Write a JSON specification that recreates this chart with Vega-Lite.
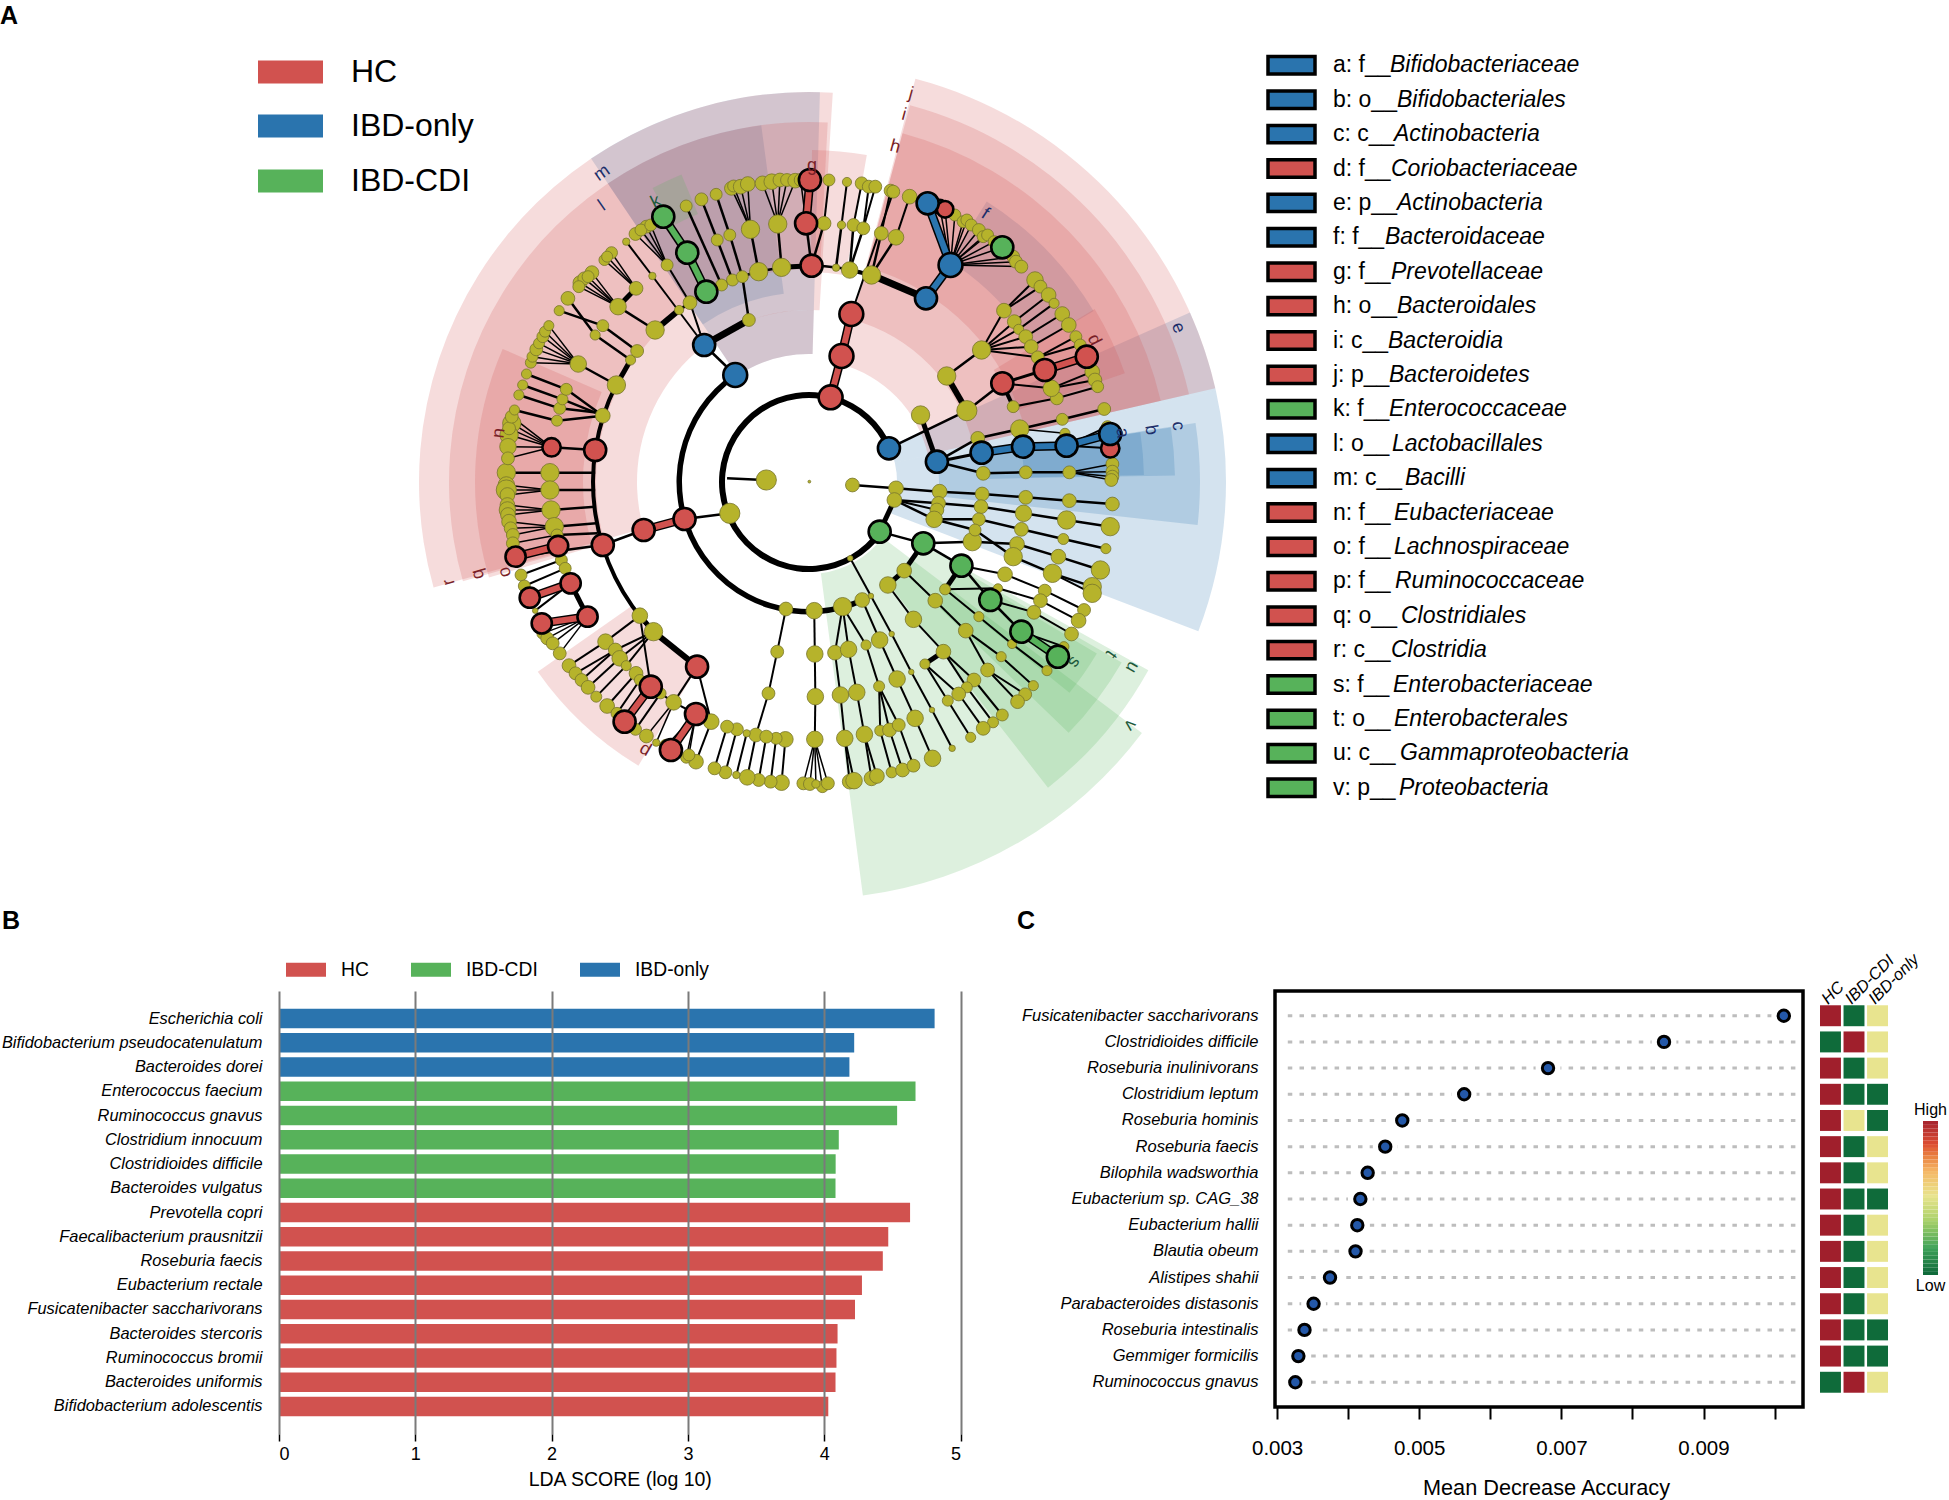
{"$schema":"https://vega.github.io/schema/vega-lite/v6.json","padding":0,"background":"white","bounds":"flush","spacing":0,"config":{"font":"Liberation Sans","view":{"stroke":null}},
"resolve":{"scale":{"color":"independent","x":"independent","y":"independent","size":"independent"}},
"datasets":{
"sectors":[
{"t0":0.565,"t1":1.03,"r0":262,"r1":332,"c":"b"},{"t0":1.152,"t1":1.349,"r0":88,"r1":417,"c":"b"},
{"t0":1.349,"t1":1.937,"r0":88,"r1":417,"c":"b"},{"t0":1.419,"t1":1.681,"r0":130,"r1":391,"c":"b"},{"t0":1.421,"t1":1.553,"r0":175,"r1":366,"c":"b"},{"t0":1.422,"t1":1.55,"r0":215,"r1":335,"c":"b"},
{"t0":-0.593,"t1":0.028,"r0":128,"r1":390,"c":"b"},{"t0":-0.593,"t1":-0.133,"r0":190,"r1":360,"c":"b"},
{"t0":0.258,"t1":1.344,"r0":122,"r1":417,"c":"r"},{"t0":0.262,"t1":1.344,"r0":168,"r1":390,"c":"r"},{"t0":0.262,"t1":1.344,"r0":222,"r1":361,"c":"r"},{"t0":1.026,"t1":1.239,"r0":216,"r1":334,"c":"r"},
{"t0":-1.845,"t1":0.061,"r0":172,"r1":390,"c":"r"},{"t0":-0.593,"t1":0.028,"r0":128,"r1":172,"c":"r"},{"t0":-1.85,"t1":0.052,"r0":213,"r1":360,"c":"r"},{"t0":-1.861,"t1":-1.161,"r0":226,"r1":334,"c":"r"},{"t0":0.009,"t1":0.175,"r0":210,"r1":332,"c":"r"},{"t0":3.683,"t1":4.102,"r0":216,"r1":331,"c":"r"},
{"t0":2.217,"t1":3.012,"r0":92,"r1":417,"c":"g"},{"t0":2.077,"t1":2.478,"r0":130,"r1":388,"c":"g"},{"t0":2.094,"t1":2.339,"r0":175,"r1":361,"c":"g"},{"t0":2.108,"t1":2.251,"r0":218,"r1":335,"c":"g"},{"t0":-0.489,"t1":-0.393,"r0":290,"r1":333,"c":"g"}],
"rings":[{"t0":2.182,"t1":7.453,"r0":84,"r1":90},{"t0":2.705,"t1":5.678,"r0":127,"r1":132.5},{"t0":3.946,"t1":5.178,"r0":214,"r1":218},{"t0":5.786,"t1":6.575,"r0":215,"r1":217.5}],
"tree":[
{"x":751,"y":1265,"d":3,"c":"y"},{"x":672,"y":1260,"a":600,"b":1255,"w":2.5,"d":22,"c":"y"},{"x":605,"y":1360,"d":22,"c":"y"},{"x":790,"y":1012,"d":26,"c":"r"},{"x":897,"y":1165,"d":24,"c":"b"},{"x":880,"y":1415,"d":24,"c":"g"},{"x":826,"y":1495,"d":6,"c":"y"},
{"x":830,"y":1275,"d":15,"c":"y"},{"x":910,"y":1285,"a":830,"b":1275,"w":2.5,"d":16,"c":"y"},{"x":990,"y":1295,"a":910,"b":1285,"w":2.5,"d":16,"c":"y"},{"x":1068,"y":1302,"a":990,"b":1295,"w":2.5,"d":15,"c":"y"},{"x":1148,"y":1312,"a":1068,"b":1302,"w":2.5,"d":15,"c":"y"},{"x":1228,"y":1322,"a":1148,"b":1312,"w":2.5,"d":15,"c":"y"},{"x":1307,"y":1332,"a":1228,"b":1322,"w":2.5,"d":15,"c":"y"},
{"x":907,"y":1320,"a":880,"b":1415,"w":5,"d":16,"c":"y"},{"x":988,"y":1330,"a":907,"b":1320,"w":2.5,"d":15,"c":"y"},{"x":1066,"y":1340,"a":988,"b":1330,"w":2.5,"d":15,"c":"y"},{"x":1144,"y":1360,"a":1066,"b":1340,"w":2.5,"d":18,"c":"y"},{"x":1223,"y":1380,"a":1144,"b":1360,"w":2.5,"d":20,"c":"y"},{"x":1303,"y":1400,"a":1223,"b":1380,"w":2.5,"d":20,"c":"y"},
{"x":985,"y":1350,"a":907,"b":1320,"w":2,"d":15,"c":"y"},{"x":980,"y":1378,"a":907,"b":1320,"w":2.5,"d":18,"c":"y"},{"x":1062,"y":1378,"a":980,"b":1378,"w":2.5,"d":14,"c":"y"},{"x":1140,"y":1408,"a":1062,"b":1378,"w":2.5,"d":15,"c":"y"},{"x":1217,"y":1437,"a":1140,"b":1408,"w":2.5,"d":12,"c":"y"},{"x":1295,"y":1466,"a":1217,"b":1437,"w":2.5,"d":11,"c":"y"},
{"x":1050,"y":1445,"a":960,"b":1450,"w":2.5,"d":20,"c":"y"},{"x":1132,"y":1452,"a":1050,"b":1445,"w":2.5,"d":16,"c":"y"},{"x":1208,"y":1490,"a":1132,"b":1452,"w":2.5,"d":16,"c":"y"},{"x":1285,"y":1530,"a":1208,"b":1490,"w":2.5,"d":20,"c":"y"},
{"x":1055,"y":1410,"a":980,"b":1378,"w":2.5,"d":13,"c":"y"},{"x":1125,"y":1490,"a":1055,"b":1410,"w":2.5,"d":20,"c":"y"},{"x":1197,"y":1540,"a":1125,"b":1490,"w":2.5,"d":20,"c":"y"},{"x":1270,"y":1580,"a":1197,"b":1540,"w":2.5,"d":20,"c":"y"},{"x":1270,"y":1600,"a":1197,"b":1540,"w":2,"d":20,"c":"y"},
{"x":960,"y":1450,"a":880,"b":1415,"w":2.5,"d":24,"c":"g"},{"x":1030,"y":1517,"a":960,"b":1450,"w":2.5,"d":24,"c":"g"},{"x":1083,"y":1620,"a":1030,"b":1517,"w":2.5,"d":24,"c":"g"},{"x":1140,"y":1715,"a":1083,"b":1620,"w":2.5,"d":24,"c":"g"},{"x":1207,"y":1790,"a":1140,"b":1715,"w":9,"i":6,"d":24,"c":"g"},
{"x":925,"y":1532,"a":960,"b":1450,"w":5,"d":16,"c":"y"},{"x":895,"y":1575,"a":925,"b":1532,"w":5,"d":18,"c":"y"},{"x":1000,"y":1588,"a":1030,"b":1517,"w":5,"d":12,"c":"y"},{"x":982,"y":1622,"a":925,"b":1532,"w":2,"d":16,"c":"y"},{"x":942,"y":1678,"a":895,"b":1575,"w":2,"d":18,"c":"y"},{"x":1038,"y":1712,"a":982,"b":1622,"w":2,"d":16,"c":"y"},{"x":997,"y":1775,"a":942,"b":1678,"w":2,"d":16,"c":"y"},{"x":963,"y":1812,"a":997,"b":1775,"w":5,"d":11,"c":"y"},
{"x":1110,"y":1543,"a":1030,"b":1517,"w":2,"d":16,"c":"y"},{"x":1183,"y":1592,"a":1110,"b":1543,"w":2,"d":14,"c":"y"},{"x":1255,"y":1650,"a":1183,"b":1592,"w":2,"d":14,"c":"y"},{"x":1097,"y":1585,"a":1000,"b":1588,"w":2,"d":10,"c":"y"},{"x":1175,"y":1622,"a":1097,"b":1585,"w":2,"d":15,"c":"y"},{"x":1245,"y":1682,"a":1175,"b":1622,"w":2,"d":16,"c":"y"},{"x":1163,"y":1657,"a":1083,"b":1620,"w":2,"d":15,"c":"y"},{"x":1232,"y":1722,"a":1163,"b":1657,"w":2,"d":15,"c":"y"},{"x":1218,"y":1760,"a":1140,"b":1715,"w":2,"d":11,"c":"y"},
{"x":1062,"y":1670,"a":1000,"b":1588,"w":2,"d":11,"c":"y"},{"x":1123,"y":1752,"a":1062,"b":1670,"w":2,"d":10,"c":"y"},{"x":1187,"y":1832,"a":1123,"b":1752,"w":2,"d":11,"c":"y"},{"x":1103,"y":1790,"a":1038,"b":1712,"w":2,"d":11,"c":"y"},{"x":1162,"y":1877,"a":1103,"b":1790,"w":2,"d":11,"c":"y"},{"x":1078,"y":1830,"a":1038,"b":1712,"w":2,"d":15,"c":"y"},{"x":1147,"y":1903,"a":1078,"b":1830,"w":2,"d":14,"c":"y"},{"x":1133,"y":1925,"a":1078,"b":1830,"w":2,"d":15,"c":"y"},
{"x":1053,"y":1860,"a":997,"b":1775,"w":2,"d":15,"c":"y"},{"x":1105,"y":1965,"a":1053,"b":1860,"w":2,"d":13,"c":"y"},{"x":1040,"y":1882,"a":997,"b":1775,"w":2,"d":12,"c":"y"},{"x":1088,"y":1987,"a":1040,"b":1882,"w":2,"d":12,"c":"y"},{"x":1025,"y":1902,"a":963,"b":1812,"w":2,"d":15,"c":"y"},{"x":1070,"y":2005,"a":1025,"b":1902,"w":2,"d":15,"c":"y"},{"x":1005,"y":1922,"a":963,"b":1812,"w":2,"d":12,"c":"y"},{"x":1047,"y":2032,"a":1005,"b":1922,"w":2,"d":11,"c":"y"},
{"x":708,"y":1647,"d":15,"c":"y"},{"x":760,"y":1652,"d":18,"c":"y"},{"x":812,"y":1640,"d":20,"c":"y"},{"x":848,"y":1620,"d":16,"c":"y"},{"x":864,"y":1608,"a":826,"b":1495,"w":2,"d":6,"c":"y"},{"x":902,"y":1722,"a":864,"b":1608,"w":2,"d":6,"c":"y"},{"x":938,"y":1836,"a":902,"b":1722,"w":2,"d":6,"c":"y"},{"x":976,"y":1950,"a":938,"b":1836,"w":2,"d":6,"c":"y"},{"x":1013,"y":2065,"a":976,"b":1950,"w":2,"d":7,"c":"y"},
{"x":692,"y":1775,"a":708,"b":1647,"w":2,"d":14,"c":"y"},{"x":676,"y":1900,"a":692,"b":1775,"w":2,"d":14,"c":"y"},{"x":653,"y":2025,"a":676,"b":1900,"w":2,"d":15,"c":"y"},{"x":761,"y":1782,"a":760,"b":1652,"w":2,"d":18,"c":"y"},{"x":762,"y":1910,"a":761,"b":1782,"w":2,"d":18,"c":"y"},{"x":761,"y":2038,"a":762,"b":1910,"w":2,"d":18,"c":"y"},
{"x":740,"y":2170,"a":761,"b":2038,"w":1.5,"d":14,"c":"y"},{"x":752,"y":2172,"a":761,"b":2038,"w":1.5,"d":14,"c":"y"},{"x":775,"y":2180,"a":761,"b":2038,"w":1.5,"d":13,"c":"y"},{"x":785,"y":2170,"a":761,"b":2038,"w":1.5,"d":14,"c":"y"},{"x":763,"y":2172,"a":761,"b":2038,"w":1.5,"d":9,"c":"y"},
{"x":798,"y":1778,"a":812,"b":1640,"w":2,"d":16,"c":"y"},{"x":808,"y":1905,"a":798,"b":1778,"w":2,"d":18,"c":"y"},{"x":816,"y":2035,"a":808,"b":1905,"w":2,"d":18,"c":"y"},{"x":825,"y":2165,"a":816,"b":2035,"w":2,"d":16,"c":"y"},{"x":833,"y":2162,"a":816,"b":2035,"w":2,"d":18,"c":"y"},
{"x":823,"y":1768,"a":812,"b":1640,"w":2,"d":18,"c":"y"},{"x":838,"y":1897,"a":823,"b":1768,"w":2,"d":18,"c":"y"},{"x":852,"y":2023,"a":838,"b":1897,"w":2,"d":18,"c":"y"},{"x":865,"y":2155,"a":852,"b":2023,"w":2,"d":16,"c":"y"},{"x":875,"y":2148,"a":852,"b":2023,"w":2,"d":16,"c":"y"},
{"x":880,"y":1740,"a":848,"b":1620,"w":2,"d":18,"c":"y"},{"x":912,"y":1857,"a":880,"b":1740,"w":2,"d":18,"c":"y"},{"x":945,"y":1975,"a":912,"b":1857,"w":2,"d":18,"c":"y"},{"x":977,"y":2095,"a":945,"b":1975,"w":2,"d":18,"c":"y"},
{"x":855,"y":1755,"a":812,"b":1640,"w":2,"d":11,"c":"y"},{"x":879,"y":1879,"a":855,"b":1755,"w":2,"d":12,"c":"y"},{"x":881,"y":2012,"a":879,"b":1879,"w":2,"d":12,"c":"y"},{"x":902,"y":2137,"a":881,"b":2012,"w":2,"d":12,"c":"y"},{"x":898,"y":2010,"a":879,"b":1879,"w":2,"d":15,"c":"y"},{"x":922,"y":2130,"a":898,"b":2010,"w":2,"d":15,"c":"y"},{"x":915,"y":1995,"a":879,"b":1879,"w":2,"d":14,"c":"y"},{"x":942,"y":2117,"a":915,"b":1995,"w":2,"d":14,"c":"y"},
{"x":707,"y":2038,"d":17,"c":"y"},{"x":700,"y":2168,"a":707,"b":2038,"w":2,"d":17,"c":"y"},{"x":690,"y":2035,"d":13,"c":"y"},{"x":680,"y":2165,"a":690,"b":2035,"w":2,"d":14,"c":"y"},{"x":672,"y":2030,"d":14,"c":"y"},{"x":658,"y":2160,"a":672,"b":2030,"w":2,"d":14,"c":"y"},{"x":637,"y":2152,"a":653,"b":2025,"w":2,"d":17,"c":"y"},{"x":636,"y":2020,"d":8,"c":"y"},{"x":617,"y":2145,"a":636,"b":2020,"w":2,"d":8,"c":"y"},{"x":618,"y":2008,"d":14,"c":"y"},{"x":597,"y":2137,"a":618,"b":2008,"w":2,"d":14,"c":"y"},{"x":600,"y":2000,"d":14,"c":"y"},{"x":577,"y":2125,"a":600,"b":2000,"w":2,"d":14,"c":"y"},
{"x":571,"y":1985,"a":545,"b":1820,"w":2,"d":17,"c":"y"},{"x":543,"y":2105,"a":571,"b":1985,"w":2,"d":16,"c":"y"},{"x":525,"y":2093,"a":543,"b":1962,"w":1.5,"d":12,"c":"y"},{"x":530,"y":2085,"a":543,"b":1962,"w":1.5,"d":13,"c":"y"},{"x":505,"y":2075,"a":543,"b":1962,"w":1.5,"d":13,"c":"y"},{"x":488,"y":2057,"a":543,"b":1962,"w":1.5,"d":14,"c":"y"},{"x":470,"y":2048,"a":502,"b":1927,"w":1.5,"d":8,"c":"y"},{"x":452,"y":2028,"a":502,"b":1927,"w":1.5,"d":15,"c":"y"},{"x":502,"y":1927,"a":545,"b":1820,"w":2,"d":17,"c":"y"},
{"x":440,"y":1667,"d":17,"c":"y"},{"x":465,"y":1715,"a":440,"b":1667,"w":5,"d":20,"c":"y"},{"x":377,"y":1745,"a":440,"b":1667,"w":2,"d":17,"c":"y"},{"x":310,"y":1817,"a":377,"b":1745,"w":2,"d":15,"c":"y"},{"x":395,"y":1770,"a":465,"b":1715,"w":2,"d":15,"c":"y"},{"x":322,"y":1840,"a":395,"b":1770,"w":2,"d":14,"c":"y"},{"x":333,"y":1860,"a":395,"b":1770,"w":2,"d":14,"c":"y"},{"x":403,"y":1795,"a":465,"b":1715,"w":2,"d":17,"c":"y"},{"x":345,"y":1882,"a":403,"b":1795,"w":2,"d":15,"c":"y"},{"x":415,"y":1817,"a":465,"b":1715,"w":2,"d":11,"c":"y"},{"x":360,"y":1910,"a":415,"b":1817,"w":2,"d":12,"c":"y"},{"x":433,"y":1840,"a":460,"b":1880,"w":2,"d":15,"c":"y"},{"x":380,"y":1938,"a":433,"b":1840,"w":2,"d":16,"c":"y"},{"x":440,"y":1860,"a":460,"b":1880,"w":2,"d":12,"c":"y"},{"x":398,"y":1960,"a":440,"b":1860,"w":2,"d":13,"c":"y"},{"x":478,"y":1900,"a":502,"b":1927,"w":2,"d":12,"c":"y"},{"x":432,"y":2008,"a":478,"b":1900,"w":2,"d":13,"c":"y"},
{"x":275,"y":1238,"a":358,"b":1238,"w":2.5,"d":20,"c":"y"},{"x":275,"y":1290,"a":358,"b":1290,"w":2.5,"d":20,"c":"y"},{"x":277,"y":1350,"a":358,"b":1340,"w":2.5,"d":20,"c":"y"},{"x":283,"y":1400,"a":360,"b":1390,"w":2.5,"d":20,"c":"y"},{"x":288,"y":1425,"a":362,"b":1420,"w":2.5,"d":13,"c":"y"},
{"x":195,"y":1238,"a":275,"b":1238,"w":2.5,"d":20,"c":"y"},{"x":195,"y":1275,"a":275,"b":1290,"w":1.5,"d":18,"c":"y"},{"x":195,"y":1290,"a":275,"b":1290,"w":1.5,"d":22,"c":"y"},{"x":197,"y":1305,"a":275,"b":1290,"w":1.5,"d":16,"c":"y"},{"x":197,"y":1335,"a":277,"b":1350,"w":1.5,"d":16,"c":"y"},{"x":197,"y":1350,"a":277,"b":1350,"w":1.5,"d":18,"c":"y"},{"x":198,"y":1365,"a":277,"b":1350,"w":1.5,"d":16,"c":"y"},{"x":200,"y":1385,"a":283,"b":1400,"w":1.5,"d":16,"c":"y"},{"x":203,"y":1405,"a":283,"b":1400,"w":1.5,"d":14,"c":"y"},{"x":207,"y":1425,"a":283,"b":1400,"w":1.5,"d":14,"c":"y"},{"x":207,"y":1450,"a":288,"b":1425,"w":1.5,"d":14,"c":"y"},
{"x":296,"y":1500,"a":290,"b":1458,"w":3,"d":13,"c":"y"},{"x":303,"y":1525,"a":296,"b":1500,"w":3,"d":13,"c":"y"},{"x":222,"y":1545,"a":296,"b":1500,"w":2,"d":13,"c":"y"},{"x":228,"y":1578,"a":303,"b":1525,"w":2,"d":13,"c":"y"},{"x":248,"y":1652,"a":313,"b":1570,"w":2,"d":6,"c":"y"},
{"x":262,"y":1720,"a":344,"b":1670,"w":1.5,"d":13,"c":"y"},{"x":270,"y":1735,"a":344,"b":1670,"w":1.5,"d":14,"c":"y"},{"x":280,"y":1750,"a":344,"b":1670,"w":1.5,"d":14,"c":"y"},{"x":293,"y":1780,"a":344,"b":1670,"w":1.5,"d":14,"c":"y"},
{"x":278,"y":1162,"a":358,"b":1170,"w":2.5,"d":20,"c":"r"},{"x":205,"y":1090,"a":278,"b":1162,"w":1.5,"d":20,"c":"y"},{"x":200,"y":1125,"a":278,"b":1162,"w":1.5,"d":20,"c":"y"},{"x":198,"y":1160,"a":278,"b":1162,"w":1.5,"d":18,"c":"y"},{"x":198,"y":1195,"a":278,"b":1162,"w":1.5,"d":14,"c":"y"},{"x":200,"y":1105,"a":278,"b":1162,"w":1.5,"d":14,"c":"y"},{"x":205,"y":1070,"a":278,"b":1162,"w":1.5,"d":14,"c":"y"},
{"x":372,"y":1067,"d":16,"c":"y"},{"x":397,"y":975,"d":20,"c":"y"},{"x":288,"y":1082,"a":372,"b":1067,"w":2.5,"d":12,"c":"y"},{"x":210,"y":1050,"a":288,"b":1082,"w":2.5,"d":11,"c":"y"},{"x":293,"y":1045,"a":372,"b":1060,"w":2.5,"d":13,"c":"y"},{"x":218,"y":1005,"a":293,"b":1045,"w":2.5,"d":11,"c":"y"},{"x":298,"y":1018,"a":372,"b":1067,"w":2.5,"d":12,"c":"y"},{"x":225,"y":975,"a":298,"b":1018,"w":2.5,"d":11,"c":"y"},{"x":305,"y":988,"a":372,"b":1067,"w":2.5,"d":13,"c":"y"},{"x":232,"y":942,"a":305,"b":988,"w":2.5,"d":11,"c":"y"},
{"x":327,"y":912,"a":397,"b":975,"w":2.5,"d":18,"c":"y"},{"x":240,"y":908,"a":327,"b":912,"w":1.5,"d":12,"c":"y"},{"x":243,"y":890,"a":327,"b":912,"w":1.5,"d":12,"c":"y"},{"x":250,"y":868,"a":327,"b":912,"w":1.5,"d":14,"c":"y"},{"x":255,"y":850,"a":327,"b":912,"w":1.5,"d":12,"c":"y"},{"x":262,"y":830,"a":327,"b":912,"w":1.5,"d":13,"c":"y"},{"x":266,"y":815,"a":327,"b":912,"w":1.5,"d":12,"c":"y"},{"x":273,"y":797,"a":327,"b":912,"w":1.5,"d":11,"c":"y"},
{"x":423,"y":900,"a":397,"b":975,"w":5,"d":11,"c":"y"},{"x":435,"y":873,"a":423,"b":900,"w":3,"d":14,"c":"y"},{"x":372,"y":797,"a":435,"b":873,"w":2.5,"d":13,"c":"y"},{"x":292,"y":752,"a":372,"b":797,"w":2.5,"d":11,"c":"y"},{"x":358,"y":825,"a":423,"b":900,"w":2.5,"d":11,"c":"y"},{"x":308,"y":715,"a":358,"b":825,"w":2.5,"d":15,"c":"y"},
{"x":640,"y":780,"a":558,"b":855,"w":7,"d":14,"c":"y"},{"x":532,"y":728,"a":558,"b":855,"w":2,"d":15,"c":"y"},{"x":463,"y":648,"a":558,"b":855,"w":2,"d":8,"c":"y"},{"x":415,"y":545,"a":463,"b":648,"w":2,"d":8,"c":"y"},{"x":490,"y":615,"a":532,"b":728,"w":2,"d":13,"c":"y"},{"x":512,"y":750,"a":532,"b":728,"w":3,"d":10,"c":"y"},{"x":468,"y":810,"a":512,"b":750,"w":6,"d":20,"c":"y"},{"x":400,"y":740,"a":468,"b":810,"w":2.5,"d":18,"c":"y"},
{"x":330,"y":668,"a":400,"b":740,"w":1.5,"d":15,"c":"y"},{"x":338,"y":655,"a":400,"b":740,"w":1.5,"d":14,"c":"y"},{"x":352,"y":638,"a":400,"b":740,"w":1.5,"d":15,"c":"y"},{"x":328,"y":680,"a":400,"b":740,"w":1.5,"d":13,"c":"y"},{"x":345,"y":650,"a":400,"b":740,"w":1.5,"d":13,"c":"y"},{"x":433,"y":685,"a":400,"b":740,"w":5,"d":15,"c":"y"},{"x":375,"y":600,"a":433,"b":685,"w":1.5,"d":12,"c":"y"},{"x":388,"y":578,"a":433,"b":685,"w":1.5,"d":13,"c":"y"},{"x":380,"y":590,"a":433,"b":685,"w":1.5,"d":12,"c":"y"},
{"x":432,"y":522,"a":490,"b":615,"w":1.5,"d":14,"c":"y"},{"x":452,"y":500,"a":490,"b":615,"w":1.5,"d":14,"c":"y"},{"x":442,"y":510,"a":490,"b":615,"w":1.5,"d":13,"c":"y"},{"x":460,"y":495,"a":490,"b":615,"w":1.5,"d":13,"c":"y"},
{"x":590,"y":675,"d":13,"c":"y"},{"x":610,"y":660,"d":13,"c":"y"},{"x":628,"y":650,"a":640,"b":780,"w":2.5,"d":13,"c":"y"},{"x":658,"y":635,"d":20,"c":"y"},{"x":700,"y":622,"a":755,"b":617,"w":5,"d":20,"c":"y"},{"x":800,"y":623,"d":8,"c":"y"},{"x":825,"y":630,"d":18,"c":"y"},{"x":865,"y":645,"a":825,"b":630,"w":4,"d":20,"c":"y"},
{"x":525,"y":438,"a":590,"b":675,"w":2.5,"d":13,"c":"y"},{"x":582,"y":540,"a":610,"b":660,"w":2.5,"d":13,"c":"y"},{"x":553,"y":418,"a":582,"b":540,"w":2.5,"d":14,"c":"y"},{"x":605,"y":525,"a":628,"b":650,"w":2.5,"d":13,"c":"y"},{"x":580,"y":403,"a":605,"b":525,"w":2.5,"d":13,"c":"y"},
{"x":643,"y":508,"a":658,"b":635,"w":2.5,"d":20,"c":"y"},{"x":608,"y":385,"a":643,"b":508,"w":1.5,"d":15,"c":"y"},{"x":612,"y":378,"a":643,"b":508,"w":1.5,"d":13,"c":"y"},{"x":625,"y":380,"a":643,"b":508,"w":1.5,"d":16,"c":"y"},{"x":638,"y":372,"a":643,"b":508,"w":1.5,"d":16,"c":"y"},
{"x":693,"y":492,"a":700,"b":622,"w":2.5,"d":20,"c":"y"},{"x":665,"y":370,"a":693,"b":492,"w":1.5,"d":16,"c":"y"},{"x":682,"y":365,"a":693,"b":492,"w":1.5,"d":17,"c":"y"},{"x":697,"y":360,"a":693,"b":492,"w":1.5,"d":15,"c":"y"},{"x":710,"y":360,"a":693,"b":492,"w":1.5,"d":14,"c":"y"},{"x":725,"y":362,"a":693,"b":492,"w":1.5,"d":16,"c":"y"},{"x":735,"y":360,"a":745,"b":490,"w":1.5,"d":14,"c":"y"},
{"x":778,"y":490,"a":755,"b":617,"w":2.5,"d":15,"c":"y"},{"x":787,"y":360,"a":778,"b":490,"w":2,"d":13,"c":"y"},{"x":810,"y":495,"a":800,"b":623,"w":2.5,"d":9,"c":"y"},{"x":820,"y":366,"a":810,"b":495,"w":2,"d":10,"c":"y"},{"x":832,"y":495,"a":825,"b":630,"w":2.5,"d":14,"c":"y"},{"x":847,"y":370,"a":832,"b":495,"w":2,"d":14,"c":"y"},{"x":850,"y":505,"a":825,"b":630,"w":2.5,"d":14,"c":"y"},{"x":860,"y":380,"a":850,"b":505,"w":2,"d":14,"c":"y"},{"x":872,"y":380,"a":850,"b":505,"w":2,"d":14,"c":"y"},
{"x":883,"y":520,"a":865,"b":645,"w":2.5,"d":15,"c":"y"},{"x":900,"y":392,"a":883,"b":520,"w":2,"d":14,"c":"y"},{"x":910,"y":532,"a":865,"b":645,"w":2.5,"d":17,"c":"y"},{"x":935,"y":410,"a":910,"b":532,"w":2,"d":16,"c":"y"},{"x":905,"y":395,"a":828,"b":762,"w":2,"d":14,"c":"y"},
{"x":990,"y":440,"a":1010,"b":615,"w":1.5,"d":15,"c":"g"},{"x":1000,"y":448,"a":1010,"b":615,"w":1.5,"d":18,"c":"r"},{"x":1018,"y":465,"a":1010,"b":615,"w":1.5,"d":13,"c":"y"},{"x":1033,"y":485,"a":1010,"b":615,"w":1.5,"d":13,"c":"y"},{"x":1040,"y":480,"a":1010,"b":615,"w":1.5,"d":13,"c":"y"},{"x":1048,"y":495,"a":1010,"b":615,"w":1.5,"d":13,"c":"y"},{"x":1062,"y":510,"a":1010,"b":615,"w":1.5,"d":14,"c":"y"},{"x":1070,"y":530,"a":1010,"b":615,"w":1.5,"d":13,"c":"y"},{"x":1078,"y":525,"a":1010,"b":615,"w":1.5,"d":13,"c":"y"},{"x":1090,"y":545,"a":1010,"b":615,"w":1.5,"d":13,"c":"y"},{"x":1105,"y":562,"a":1010,"b":615,"w":1.5,"d":24,"c":"g"},{"x":1125,"y":590,"a":1010,"b":615,"w":1.5,"d":14,"c":"y"},{"x":1130,"y":605,"a":1010,"b":615,"w":1.5,"d":14,"c":"y"},{"x":1140,"y":620,"a":1010,"b":615,"w":1.5,"d":14,"c":"y"},
{"x":1040,"y":1052,"a":897,"b":1165,"w":2.5,"d":22,"c":"y"},{"x":1003,"y":948,"a":1040,"b":1052,"w":6,"d":20,"c":"y"},{"x":1067,"y":870,"a":1003,"b":948,"w":2.5,"d":20,"c":"y"},
{"x":1108,"y":752,"a":1067,"b":870,"w":2,"d":16,"c":"y"},{"x":1127,"y":785,"a":1067,"b":870,"w":2,"d":15,"c":"y"},{"x":1135,"y":808,"a":1067,"b":870,"w":2,"d":11,"c":"y"},{"x":1148,"y":830,"a":1067,"b":870,"w":2,"d":15,"c":"y"},{"x":1158,"y":860,"a":1067,"b":870,"w":2,"d":15,"c":"y"},{"x":1170,"y":892,"a":1067,"b":870,"w":2,"d":14,"c":"y"},
{"x":1165,"y":660,"a":1108,"b":752,"w":2,"d":18,"c":"y"},{"x":1175,"y":680,"a":1108,"b":752,"w":2,"d":14,"c":"y"},{"x":1190,"y":705,"a":1127,"b":785,"w":2,"d":16,"c":"y"},{"x":1200,"y":730,"a":1135,"b":808,"w":2,"d":11,"c":"y"},{"x":1215,"y":762,"a":1148,"b":830,"w":2,"d":16,"c":"y"},{"x":1227,"y":795,"a":1158,"b":860,"w":2,"d":16,"c":"y"},{"x":1240,"y":830,"a":1170,"b":892,"w":2,"d":13,"c":"y"},{"x":1248,"y":855,"a":1170,"b":892,"w":2,"d":13,"c":"y"},
{"x":955,"y":1065,"a":985,"b":1205,"w":5,"d":20,"c":"y"},{"x":1125,"y":1040,"a":1105,"b":970,"w":4,"d":13,"c":"y"},{"x":1205,"y":1015,"a":1125,"b":1040,"w":2,"d":14,"c":"y"},{"x":1195,"y":985,"a":1105,"b":970,"w":2,"d":18,"c":"y"},{"x":1270,"y":935,"a":1195,"b":985,"w":2,"d":16,"c":"y"},{"x":1275,"y":960,"a":1195,"b":985,"w":2,"d":15,"c":"y"},{"x":1280,"y":980,"a":1205,"b":1015,"w":2,"d":13,"c":"y"},
{"x":1060,"y":1135,"a":985,"b":1205,"w":2.5,"d":15,"c":"y"},{"x":1137,"y":1107,"a":1060,"b":1135,"w":2.5,"d":20,"c":"y"},{"x":1215,"y":1078,"a":1137,"b":1107,"w":2.5,"d":13,"c":"y"},{"x":1292,"y":1047,"a":1215,"b":1078,"w":2.5,"d":14,"c":"y"},{"x":1298,"y":1100,"a":1223,"b":1157,"w":2,"d":13,"c":"y"},{"x":1220,"y":1120,"a":1137,"b":1107,"w":1.5,"d":11,"c":"y"},
{"x":1070,"y":1240,"a":985,"b":1205,"w":2.5,"d":15,"c":"y"},{"x":1148,"y":1237,"a":1070,"b":1240,"w":2.5,"d":14,"c":"y"},{"x":1228,"y":1237,"a":1148,"b":1237,"w":2.5,"d":14,"c":"y"},{"x":1307,"y":1212,"a":1228,"b":1237,"w":1.5,"d":14,"c":"y"},{"x":1307,"y":1235,"a":1228,"b":1237,"w":1.5,"d":14,"c":"y"},{"x":1307,"y":1250,"a":1228,"b":1237,"w":1.5,"d":14,"c":"y"},{"x":1305,"y":1260,"a":1228,"b":1237,"w":1.5,"d":14,"c":"y"},
{"x":615,"y":945,"d":26,"c":"b"},{"x":558,"y":855,"a":615,"b":945,"w":2.5,"d":24,"c":"b"},{"x":522,"y":1377,"a":605,"b":1360,"w":2.5,"d":24,"c":"r"},{"x":447,"y":1410,"a":522,"b":1377,"w":9,"i":6,"d":24,"c":"r"},{"x":372,"y":1455,"a":447,"b":1410,"w":2.5,"d":24,"c":"r"},{"x":212,"y":1490,"a":372,"b":1455,"w":2.5,"d":22,"c":"r"},{"x":290,"y":1458,"a":212,"b":1490,"w":9,"i":6,"d":22,"c":"r"},{"x":313,"y":1570,"a":303,"b":1525,"w":5,"d":22,"c":"r"},{"x":238,"y":1613,"a":313,"b":1570,"w":9,"i":6,"d":22,"c":"r"},{"x":344,"y":1670,"a":313,"b":1570,"w":5,"d":22,"c":"r"},{"x":260,"y":1690,"a":344,"b":1670,"w":9,"i":6,"d":22,"c":"r"},
{"x":358,"y":1170,"d":24,"c":"r"},{"x":545,"y":1820,"a":465,"b":1715,"w":6,"d":24,"c":"r"},{"x":460,"y":1880,"a":440,"b":1667,"w":2,"d":24,"c":"r"},{"x":412,"y":1985,"a":460,"b":1880,"w":9,"i":6,"d":24,"c":"r"},{"x":543,"y":1962,"a":502,"b":1927,"w":2,"d":24,"c":"r"},{"x":497,"y":2070,"a":543,"b":1962,"w":9,"i":6,"d":24,"c":"r"},
{"x":562,"y":695,"d":24,"c":"g"},{"x":527,"y":578,"a":562,"b":695,"w":9,"i":6,"d":24,"c":"g"},{"x":483,"y":470,"a":527,"b":578,"w":9,"i":6,"d":24,"c":"g"},
{"x":755,"y":617,"d":24,"c":"r"},{"x":745,"y":490,"a":755,"b":617,"w":2.5,"d":24,"c":"r"},{"x":752,"y":360,"a":745,"b":490,"w":9,"i":6,"d":24,"c":"r"},
{"x":965,"y":715,"a":865,"b":645,"w":7,"d":24,"c":"b"},{"x":1010,"y":615,"a":965,"b":715,"w":9,"i":6,"d":26,"c":"b"},{"x":968,"y":430,"a":1010,"b":615,"w":9,"i":6,"d":24,"c":"b"},
{"x":810,"y":888,"a":790,"b":1012,"w":9,"i":6,"d":26,"c":"r"},{"x":828,"y":762,"a":810,"b":888,"w":9,"i":6,"d":26,"c":"r"},
{"x":1105,"y":970,"a":1040,"b":1052,"w":2.5,"d":24,"c":"r"},{"x":1183,"y":930,"a":1105,"b":970,"w":3,"d":24,"c":"r"},{"x":1260,"y":890,"a":1183,"b":930,"w":9,"i":6,"d":24,"c":"r"},
{"x":1303,"y":1165,"a":1223,"b":1157,"w":2,"d":20,"c":"r"},{"x":985,"y":1205,"d":24,"c":"b"},{"x":1067,"y":1178,"a":985,"b":1205,"w":3,"d":24,"c":"b"},{"x":1143,"y":1160,"a":1067,"b":1178,"w":9,"i":6,"d":24,"c":"b"},{"x":1223,"y":1157,"a":1143,"b":1160,"w":9,"i":6,"d":24,"c":"b"},{"x":1303,"y":1122,"a":1223,"b":1157,"w":9,"i":6,"d":24,"c":"b"}],
"cladeLabels":[{"l":"a","x":1122,"y":433,"t":81,"c":"lb"},{"l":"b","x":1151,"y":430,"t":81,"c":"lb"},{"l":"c","x":1178,"y":426,"t":81,"c":"lb"},{"l":"d","x":1094,"y":340,"t":63,"c":"lr"},{"l":"e","x":1178,"y":328,"t":67,"c":"lb"},{"l":"f","x":985,"y":214,"t":33,"c":"lb"},{"l":"g","x":812,"y":166,"t":0,"c":"lr"},{"l":"h","x":895,"y":147,"t":15,"c":"lr"},{"l":"i","x":904,"y":115,"t":15,"c":"lr"},{"l":"j","x":911,"y":94,"t":15,"c":"lr"},{"l":"k","x":656,"y":202,"t":-27,"c":"lg"},{"l":"l","x":602,"y":206,"t":-35,"c":"lb"},{"l":"m","x":602,"y":173,"t":-35,"c":"lb"},{"l":"n","x":499,"y":433,"t":-82,"c":"lr"},{"l":"o","x":505,"y":572,"t":-106,"c":"lr"},{"l":"p","x":645,"y":750,"t":-150,"c":"lr"},{"l":"q","x":478,"y":574,"t":-106,"c":"lr"},{"l":"r","x":449,"y":582,"t":-106,"c":"lr"},{"l":"s","x":1074,"y":662,"t":125,"c":"lg"},{"l":"t","x":1111,"y":654,"t":125,"c":"lg"},{"l":"u","x":1132,"y":667,"t":120,"c":"lg"},{"l":"v","x":1130,"y":725,"t":130,"c":"lg"}],
"groupLegend":[{"y":72,"c":"r","n":"HC"},{"y":126,"c":"b","n":"IBD-only"},{"y":181,"c":"g","n":"IBD-CDI"}],
"letters":[{"l":"A","x":0,"y":24},{"l":"B","x":2,"y":929},{"l":"C","x":1017,"y":929}],
"taxa":[
{"y":65.3,"c":"b","p":"a: f__","n":"Bifidobacteriaceae","nx":1390},{"y":99.7,"c":"b","p":"b: o__","n":"Bifidobacteriales","nx":1397},{"y":134.1,"c":"b","p":"c: c__","n":"Actinobacteria","nx":1394},{"y":168.5,"c":"r","p":"d: f__","n":"Coriobacteriaceae","nx":1391},{"y":202.9,"c":"b","p":"e: p__","n":"Actinobacteria","nx":1397},{"y":237.3,"c":"b","p":"f: f__","n":"Bacteroidaceae","nx":1385},{"y":271.7,"c":"r","p":"g: f__","n":"Prevotellaceae","nx":1391},{"y":306.1,"c":"r","p":"h: o__","n":"Bacteroidales","nx":1397},{"y":340.5,"c":"r","p":"i: c__","n":"Bacteroidia","nx":1388},{"y":374.9,"c":"r","p":"j: p__","n":"Bacteroidetes","nx":1389},{"y":409.3,"c":"g","p":"k: f__","n":"Enterococcaceae","nx":1389},{"y":443.7,"c":"b","p":"l: o__","n":"Lactobacillales","nx":1392},{"y":478.1,"c":"b","p":"m: c__","n":"Bacilli","nx":1405},{"y":512.5,"c":"r","p":"n: f__","n":"Eubacteriaceae","nx":1394},{"y":546.9,"c":"r","p":"o: f__","n":"Lachnospiraceae","nx":1394},{"y":581.3,"c":"r","p":"p: f__","n":"Ruminococcaceae","nx":1395},{"y":615.7,"c":"r","p":"q: o__","n":"Clostridiales","nx":1401},{"y":650.1,"c":"r","p":"r: c__","n":"Clostridia","nx":1391},{"y":684.5,"c":"g","p":"s: f__","n":"Enterobacteriaceae","nx":1393},{"y":718.9,"c":"g","p":"t: o__","n":"Enterobacterales","nx":1394},{"y":753.3,"c":"g","p":"u: c__","n":"Gammaproteobacteria","nx":1400},{"y":787.7,"c":"g","p":"v: p__","n":"Proteobacteria","nx":1399}],
"lda":[{"s":"Escherichia coli","v":4.81,"g":"IBD-only"},{"s":"Bifidobacterium pseudocatenulatum","v":4.22,"g":"IBD-only"},{"s":"Bacteroides dorei","v":4.185,"g":"IBD-only"},{"s":"Enterococcus faecium","v":4.67,"g":"IBD-CDI"},{"s":"Ruminococcus gnavus","v":4.535,"g":"IBD-CDI"},{"s":"Clostridium innocuum","v":4.107,"g":"IBD-CDI"},{"s":"Clostridioides difficile","v":4.084,"g":"IBD-CDI"},{"s":"Bacteroides vulgatus","v":4.083,"g":"IBD-CDI"},{"s":"Prevotella copri","v":4.63,"g":"HC"},{"s":"Faecalibacterium prausnitzii","v":4.47,"g":"HC"},{"s":"Roseburia faecis","v":4.43,"g":"HC"},{"s":"Eubacterium rectale","v":4.277,"g":"HC"},{"s":"Fusicatenibacter saccharivorans","v":4.226,"g":"HC"},{"s":"Bacteroides stercoris","v":4.098,"g":"HC"},{"s":"Ruminococcus bromii","v":4.09,"g":"HC"},{"s":"Bacteroides uniformis","v":4.083,"g":"HC"},{"s":"Bifidobacterium adolescentis","v":4.03,"g":"HC"}],
"mda":[{"s":"Fusicatenibacter saccharivorans","v":0.01013},{"s":"Clostridioides difficile","v":0.008444},{"s":"Roseburia inulinivorans","v":0.006812},{"s":"Clostridium leptum","v":0.005632},{"s":"Roseburia hominis","v":0.004761},{"s":"Roseburia faecis","v":0.004521},{"s":"Bilophila wadsworthia","v":0.004274},{"s":"Eubacterium sp. CAG_38","v":0.004171},{"s":"Eubacterium hallii","v":0.004128},{"s":"Blautia obeum","v":0.004103},{"s":"Alistipes shahii","v":0.003744},{"s":"Parabacteroides distasonis","v":0.003513},{"s":"Roseburia intestinalis","v":0.003385},{"s":"Gemmiger formicilis","v":0.003299},{"s":"Ruminococcus gnavus","v":0.003256}],
"heat":[{"s":"Fusicatenibacter saccharivorans","g":"HC","v":1},{"s":"Fusicatenibacter saccharivorans","g":"IBD-CDI","v":-1},{"s":"Fusicatenibacter saccharivorans","g":"IBD-only","v":0},{"s":"Clostridioides difficile","g":"HC","v":-1},{"s":"Clostridioides difficile","g":"IBD-CDI","v":1},{"s":"Clostridioides difficile","g":"IBD-only","v":0},{"s":"Roseburia inulinivorans","g":"HC","v":1},{"s":"Roseburia inulinivorans","g":"IBD-CDI","v":-1},{"s":"Roseburia inulinivorans","g":"IBD-only","v":0},{"s":"Clostridium leptum","g":"HC","v":1},{"s":"Clostridium leptum","g":"IBD-CDI","v":-1},{"s":"Clostridium leptum","g":"IBD-only","v":-1},{"s":"Roseburia hominis","g":"HC","v":1},{"s":"Roseburia hominis","g":"IBD-CDI","v":0},{"s":"Roseburia hominis","g":"IBD-only","v":-1},{"s":"Roseburia faecis","g":"HC","v":1},{"s":"Roseburia faecis","g":"IBD-CDI","v":-1},{"s":"Roseburia faecis","g":"IBD-only","v":0},{"s":"Bilophila wadsworthia","g":"HC","v":1},{"s":"Bilophila wadsworthia","g":"IBD-CDI","v":-1},{"s":"Bilophila wadsworthia","g":"IBD-only","v":0},{"s":"Eubacterium sp. CAG_38","g":"HC","v":1},{"s":"Eubacterium sp. CAG_38","g":"IBD-CDI","v":-1},{"s":"Eubacterium sp. CAG_38","g":"IBD-only","v":-1},{"s":"Eubacterium hallii","g":"HC","v":1},{"s":"Eubacterium hallii","g":"IBD-CDI","v":-1},{"s":"Eubacterium hallii","g":"IBD-only","v":0},{"s":"Blautia obeum","g":"HC","v":1},{"s":"Blautia obeum","g":"IBD-CDI","v":-1},{"s":"Blautia obeum","g":"IBD-only","v":0},{"s":"Alistipes shahii","g":"HC","v":1},{"s":"Alistipes shahii","g":"IBD-CDI","v":-1},{"s":"Alistipes shahii","g":"IBD-only","v":0},{"s":"Parabacteroides distasonis","g":"HC","v":1},{"s":"Parabacteroides distasonis","g":"IBD-CDI","v":-1},{"s":"Parabacteroides distasonis","g":"IBD-only","v":0},{"s":"Roseburia intestinalis","g":"HC","v":1},{"s":"Roseburia intestinalis","g":"IBD-CDI","v":-1},{"s":"Roseburia intestinalis","g":"IBD-only","v":-1},{"s":"Gemmiger formicilis","g":"HC","v":1},{"s":"Gemmiger formicilis","g":"IBD-CDI","v":-1},{"s":"Gemmiger formicilis","g":"IBD-only","v":-1},{"s":"Ruminococcus gnavus","g":"HC","v":-1},{"s":"Ruminococcus gnavus","g":"IBD-CDI","v":1},{"s":"Ruminococcus gnavus","g":"IBD-only","v":0}],
"bar":[{"v":-1,"v2":-0.95},{"v":-0.95,"v2":-0.9},{"v":-0.9,"v2":-0.85},{"v":-0.85,"v2":-0.8},{"v":-0.8,"v2":-0.75},{"v":-0.75,"v2":-0.7},{"v":-0.7,"v2":-0.65},{"v":-0.65,"v2":-0.6},{"v":-0.6,"v2":-0.55},{"v":-0.55,"v2":-0.5},{"v":-0.5,"v2":-0.45},{"v":-0.45,"v2":-0.4},{"v":-0.4,"v2":-0.35},{"v":-0.35,"v2":-0.3},{"v":-0.3,"v2":-0.25},{"v":-0.25,"v2":-0.2},{"v":-0.2,"v2":-0.15},{"v":-0.15,"v2":-0.1},{"v":-0.1,"v2":-0.05},{"v":-0.05,"v2":0},{"v":0,"v2":0.05},{"v":0.05,"v2":0.1},{"v":0.1,"v2":0.15},{"v":0.15,"v2":0.2},{"v":0.2,"v2":0.25},{"v":0.25,"v2":0.3},{"v":0.3,"v2":0.35},{"v":0.35,"v2":0.4},{"v":0.4,"v2":0.45},{"v":0.45,"v2":0.5},{"v":0.5,"v2":0.55},{"v":0.55,"v2":0.6},{"v":0.6,"v2":0.65},{"v":0.65,"v2":0.7},{"v":0.7,"v2":0.75},{"v":0.75,"v2":0.8},{"v":0.8,"v2":0.85},{"v":0.85,"v2":0.9},{"v":0.9,"v2":0.95},{"v":0.95,"v2":1}],
"barText":[{"t":"High","v":1.143},{"t":"Low","v":-1.143}],
"blank":[{"t":""}]
},
"vconcat":[
{"width":1949,"height":991,
"resolve":{"scale":{"x":"independent","y":"independent"}},
"layer":[
{"data":{"name":"sectors"},"mark":{"type":"arc","fillOpacity":0.2},"encoding":{"x":{"datum":809,"type":"quantitative","scale":{"domain":[0,1949]},"axis":null},"y":{"datum":482,"type":"quantitative","scale":{"domain":[991,0]},"axis":null},"theta":{"field":"t0","type":"quantitative","scale":null,"stack":null},"theta2":{"field":"t1"},"radius":{"field":"r1","type":"quantitative","scale":null},"radius2":{"field":"r0"},"color":{"field":"c","type":"nominal","scale":{"domain":["r","b","g","y","lr","lb","lg"],"range":["#d1524f","#2a74ae","#57b25a","#b6b32b","#7a1f28","#1c2f6b","#1d5a3c"]},"legend":null}}},
{"data":{"name":"rings"},"mark":{"type":"arc","fill":"black"},"encoding":{"x":{"datum":809,"type":"quantitative","scale":{"domain":[0,1949]},"axis":null},"y":{"datum":482,"type":"quantitative","scale":{"domain":[991,0]},"axis":null},"theta":{"field":"t0","type":"quantitative","scale":null,"stack":null},"theta2":{"field":"t1"},"radius":{"field":"r1","type":"quantitative","scale":null},"radius2":{"field":"r0"}}},
{"data":{"name":"tree"},"encoding":{"x":{"field":"x","type":"quantitative","scale":{"domain":[-734,2842]},"axis":null},"y":{"field":"y","type":"quantitative","scale":{"domain":[2793,-180]},"axis":null}},
"layer":[
{"transform":[{"filter":"datum.a!=null"}],"mark":{"type":"rule","color":"black"},"encoding":{"x2":{"field":"a"},"y2":{"field":"b"},"strokeWidth":{"field":"w","type":"quantitative","scale":null}}},
{"transform":[{"filter":"datum.i>0"}],"mark":{"type":"rule"},"encoding":{"x2":{"field":"a"},"y2":{"field":"b"},"strokeWidth":{"field":"i","type":"quantitative","scale":null},"color":{"field":"c","type":"nominal","scale":{"domain":["r","b","g","y","lr","lb","lg"],"range":["#d1524f","#2a74ae","#57b25a","#b6b32b","#7a1f28","#1c2f6b","#1d5a3c"]},"legend":null}}},
{"transform":[{"filter":"datum.c=='y'"}],"mark":{"type":"point","filled":true,"opacity":1,"stroke":"#77752c","strokeWidth":0.8},"encoding":{"size":{"field":"d","type":"quantitative","scale":{"type":"pow","exponent":2,"domain":[0,30],"range":[0,760]},"legend":null},"color":{"field":"c","type":"nominal","scale":{"domain":["r","b","g","y","lr","lb","lg"],"range":["#d1524f","#2a74ae","#57b25a","#b6b32b","#7a1f28","#1c2f6b","#1d5a3c"]},"legend":null}}},
{"transform":[{"filter":"datum.c!='y'"}],"mark":{"type":"point","filled":true,"opacity":1,"stroke":"black","strokeWidth":2.6},"encoding":{"size":{"field":"d","type":"quantitative","scale":{"type":"pow","exponent":2,"domain":[0,30],"range":[0,760]},"legend":null},"color":{"field":"c","type":"nominal","scale":{"domain":["r","b","g","y","lr","lb","lg"],"range":["#d1524f","#2a74ae","#57b25a","#b6b32b","#7a1f28","#1c2f6b","#1d5a3c"]},"legend":null}}}
]},
{"data":{"name":"cladeLabels"},"mark":{"type":"text","fontSize":18,"align":"center","baseline":"middle"},"encoding":{"x":{"field":"x","type":"quantitative","scale":{"domain":[0,1949]},"axis":null},"y":{"field":"y","type":"quantitative","scale":{"domain":[991,0]},"axis":null},"text":{"field":"l"},"angle":{"field":"t","type":"quantitative","scale":null},"color":{"field":"c","type":"nominal","scale":{"domain":["r","b","g","y","lr","lb","lg"],"range":["#d1524f","#2a74ae","#57b25a","#b6b32b","#7a1f28","#1c2f6b","#1d5a3c"]},"legend":null}}},
{"data":{"name":"groupLegend"},"mark":{"type":"point","filled":true,"opacity":1,"shape":"M-1,-0.354H1V0.354H-1Z","size":4225},"encoding":{"x":{"datum":290.5,"type":"quantitative","scale":{"domain":[0,1949]},"axis":null},"y":{"field":"y","type":"quantitative","scale":{"domain":[991,0]},"axis":null},"color":{"field":"c","type":"nominal","scale":{"domain":["r","b","g","y","lr","lb","lg"],"range":["#d1524f","#2a74ae","#57b25a","#b6b32b","#7a1f28","#1c2f6b","#1d5a3c"]},"legend":null}}},
{"data":{"name":"groupLegend"},"mark":{"type":"text","fontSize":32,"align":"left","baseline":"middle"},"encoding":{"x":{"datum":351,"type":"quantitative","scale":{"domain":[0,1949]},"axis":null},"y":{"field":"y","type":"quantitative","scale":{"domain":[991,0]},"axis":null},"text":{"field":"n"}}},
{"data":{"name":"taxa"},"mark":{"type":"point","filled":true,"opacity":1,"shape":"M-1,-0.37H1V0.37H-1Z","size":2209,"stroke":"black","strokeWidth":3.5},"encoding":{"x":{"datum":1291.5,"type":"quantitative","scale":{"domain":[0,1949]},"axis":null},"y":{"field":"y","type":"quantitative","scale":{"domain":[991,0]},"axis":null},"color":{"field":"c","type":"nominal","scale":{"domain":["r","b","g","y","lr","lb","lg"],"range":["#d1524f","#2a74ae","#57b25a","#b6b32b","#7a1f28","#1c2f6b","#1d5a3c"]},"legend":null}}},
{"data":{"name":"taxa"},"mark":{"type":"text","fontSize":23,"align":"left","baseline":"middle"},"encoding":{"x":{"datum":1333,"type":"quantitative","scale":{"domain":[0,1949]},"axis":null},"y":{"field":"y","type":"quantitative","scale":{"domain":[991,0]},"axis":null},"text":{"field":"p"}}},
{"data":{"name":"taxa"},"mark":{"type":"text","fontSize":23,"fontStyle":"italic","align":"left","baseline":"middle"},"encoding":{"x":{"field":"nx","type":"quantitative","scale":{"domain":[0,1949]},"axis":null},"y":{"field":"y","type":"quantitative","scale":{"domain":[991,0]},"axis":null},"text":{"field":"n"}}},
{"data":{"name":"letters"},"mark":{"type":"text","fontSize":25,"fontWeight":"bold","align":"left","baseline":"alphabetic"},"encoding":{"x":{"field":"x","type":"quantitative","scale":{"domain":[0,1949]},"axis":null},"y":{"field":"y","type":"quantitative","scale":{"domain":[991,0]},"axis":null},"text":{"field":"l"}}}
]},
{"bounds":"flush","spacing":0,"resolve":{"scale":{"color":"independent","x":"independent","y":"independent"}},
"hconcat":[
{"width":278.5,"height":1,"data":{"name":"blank"},"mark":"text","encoding":{"text":{"field":"t"}}},
{"width":681.5,"height":443,"data":{"name":"lda"},"mark":{"type":"bar"},
"encoding":{
"y":{"field":"s","type":"nominal","sort":null,"scale":{"paddingInner":0.2,"paddingOuter":0.735},"axis":{"title":null,"domain":false,"ticks":false,"labelFontStyle":"italic","labelFontSize":16.4,"labelColor":"black","labelPadding":17,"labelLimit":400}},
"x":{"field":"v","type":"quantitative","scale":{"domain":[0,5],"nice":false},"axis":{"title":"LDA SCORE (log 10)","values":[0,1,2,3,4,5],"grid":true,"gridColor":"#7a7a7a","gridWidth":2,"gridOpacity":1,"zindex":1,"domain":false,"tickSize":7,"tickColor":"black","tickWidth":1.5,"labelFontSize":18,"labelColor":"black","labelPadding":4,"titleFontSize":19.5,"titleFontWeight":"normal","titleColor":"black","titlePadding":7}},
"color":{"field":"g","type":"nominal","scale":{"domain":["HC","IBD-CDI","IBD-only"],"range":["#d1524f","#57b25a","#2a74ae"]},"legend":{"orient":"none","legendX":6,"legendY":-42.5,"direction":"horizontal","columns":3,"title":null,"symbolType":"M-1,-0.35H1V0.35H-1Z","symbolSize":1600,"symbolOpacity":1,"labelFontSize":19.3,"labelColor":"black","labelOffset":14,"columnPadding":41}}}},
{"width":314,"height":1,"data":{"name":"blank"},"mark":"text","encoding":{"text":{"field":"t"}}},
{"width":528,"height":416,"view":{"stroke":"black","strokeWidth":3.5},"data":{"name":"mda"},
"encoding":{"y":{"field":"s","type":"nominal","sort":null,"scale":{"paddingInner":0.2,"paddingOuter":0.545},"axis":{"title":null,"domain":false,"ticks":false,"labelFontStyle":"italic","labelFontSize":16.5,"labelColor":"black","labelPadding":17,"labelLimit":400}}},
"layer":[
{"mark":{"type":"rule","color":"#bdbdbd","strokeWidth":3,"strokeDash":[4.5,7.2]},"encoding":{"x":{"datum":0.00315,"type":"quantitative","scale":{"domain":[0.00297,0.0104],"nice":false},"axis":{"title":"Mean Decrease Accuracy","titleX":271,"values":[0.003,0.004,0.005,0.006,0.007,0.008,0.009,0.01],"labelExpr":"round(datum.value*1000)%2==1?format(datum.value,'.3f'):''","grid":false,"domain":false,"tickSize":12,"tickWidth":2,"tickColor":"black","labelFontSize":20.5,"labelColor":"black","labelPadding":19,"titleFontSize":21.7,"titleFontWeight":"normal","titleColor":"black","titlePadding":19}},"x2":{"datum":0.01035}}},
{"mark":{"type":"point","filled":true,"opacity":1,"color":"white","size":620},"encoding":{"x":{"field":"v","type":"quantitative"}}},
{"mark":{"type":"point","filled":true,"opacity":1,"color":"#2458a8","stroke":"black","strokeWidth":3,"size":130},"encoding":{"x":{"field":"v","type":"quantitative"}}}
]},
{"width":17,"height":1,"data":{"name":"blank"},"mark":"text","encoding":{"text":{"field":"t"}}},
{"width":68,"height":416,"data":{"name":"heat"},"mark":{"type":"rect"},
"encoding":{
"y":{"field":"s","type":"nominal","sort":null,"scale":{"paddingInner":0.2,"paddingOuter":0.545},"axis":null},
"x":{"field":"g","type":"nominal","sort":null,"scale":{"paddingInner":0.11,"paddingOuter":0},"axis":{"orient":"top","title":null,"domain":false,"ticks":false,"labelAngle":-45,"labelAlign":"left","labelBaseline":"middle","labelFontStyle":"italic","labelFontSize":16.5,"labelColor":"black","labelPadding":-10,"labelOffset":-6}},
"color":{"field":"v","type":"quantitative","scale":{"domain":[-1,-0.67,-0.33,0,0.33,0.67,1],"range":["#0f6b3a","#3fa35a","#a6d069","#e8e48f","#f5b567","#dd4f33","#a01f2c"]},"legend":null}}},
{"width":35,"height":1,"data":{"name":"blank"},"mark":"text","encoding":{"text":{"field":"t"}}},
{"width":15,"height":416,
"layer":[
{"data":{"name":"bar"},"mark":{"type":"rect"},"encoding":{"y":{"field":"v","type":"quantitative","scale":{"domain":[-2.714,2.688],"nice":false},"axis":null},"y2":{"field":"v2"},"color":{"field":"v","type":"quantitative","scale":{"domain":[-1,-0.67,-0.33,0,0.33,0.67,1],"range":["#0f6b3a","#3fa35a","#a6d069","#e8e48f","#f5b567","#dd4f33","#a01f2c"]},"legend":null}}},
{"data":{"name":"barText"},"mark":{"type":"text","fontSize":16,"align":"center","baseline":"middle"},"encoding":{"y":{"field":"v","type":"quantitative"},"text":{"field":"t"}}}
]}
]}
]}
